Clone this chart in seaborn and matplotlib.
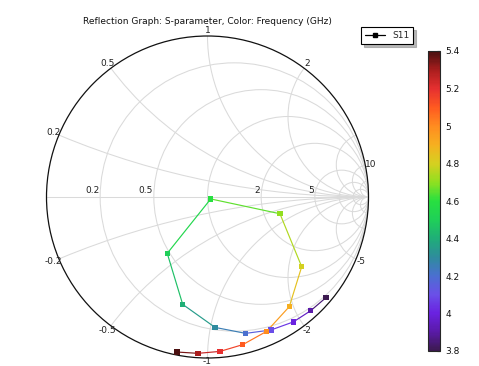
import numpy as np
import pandas as pd
import matplotlib
matplotlib.use("Agg")
import matplotlib.pyplot as plt
import seaborn as sns
from matplotlib.colors import LinearSegmentedColormap, Normalize
from matplotlib.collections import LineCollection
from matplotlib.patches import Circle
from matplotlib.lines import Line2D
from matplotlib.cm import ScalarMappable

# ---- data ----
freq = [3.8, 3.9, 4.0, 4.1, 4.2, 4.3, 4.4, 4.5, 4.6, 4.7, 4.8, 4.9, 5.0, 5.1, 5.2, 5.3, 5.4]
gamma_re = [0.736, 0.641, 0.533, 0.394, 0.237, 0.047, -0.154, -0.250, 0.020, 0.450,
            0.585, 0.508, 0.368, 0.219, 0.078, -0.059, -0.189]
gamma_im = [-0.625, -0.706, -0.776, -0.826, -0.847, -0.810, -0.667, -0.350, -0.012, -0.104,
            -0.433, -0.681, -0.834, -0.917, -0.959, -0.971, -0.963]

r_values = [0.2, 0.5, 1, 2, 5, 10, 20]
x_values = [0.2, 0.5, 1, 2, 5, 10, 20]
r_labels = {0.2: "0.2", 0.5: "0.5", 2: "2", 5: "5"}
x_labels = {0.2: "0.2", 0.5: "0.5", 1: "1", 2: "2", 10: "10",
            -0.2: "-0.2", -0.5: "-0.5", -1: "-1", -2: "-2", -5: "-5"}
cbar_ticks = [3.8, 4.0, 4.2, 4.4, 4.6, 4.8, 5.0, 5.2, 5.4]
cbar_ticklabels = ["3.8", "4", "4.2", "4.4", "4.6", "4.8", "5", "5.2", "5.4"]

title = "Reflection Graph: S-parameter, Color: Frequency (GHz)"
series_name = "S11"

# ---- style ----
sns.set_style("white")
plt.rcParams["font.family"] = ["DejaVu Sans"]

cmap = LinearSegmentedColormap.from_list("comsol_rainbow", [
    (0.0, "#3c1a50"), (0.0625, "#5a1aa8"), (0.125, "#6a22e0"), (0.1875, "#6a50e8"),
    (0.25, "#4a70d0"), (0.3125, "#2e8c9c"), (0.375, "#1fae78"), (0.4375, "#1fd058"),
    (0.5, "#28e040"), (0.5625, "#90e020"), (0.625, "#d6d020"), (0.6875, "#f6b020"),
    (0.75, "#ff8c20"), (0.8125, "#ff5a20"), (0.875, "#e63030"), (0.9375, "#aa1e1e"),
    (1.0, "#4a1010")])
norm = Normalize(vmin=min(freq), vmax=max(freq))

W, H = 479, 366
fig = plt.figure(figsize=(W / 100, H / 100), dpi=100)

cx, cy, R = 207.5, 197.0, 161.0
ax = fig.add_axes([(cx - R) / W, (H - cy - R) / H, 2 * R / W, 2 * R / H])
ax.set_xlim(-1, 1)
ax.set_ylim(-1, 1)
ax.axis("off")

grid_c = "#dadada"
grid_lw = 0.75
unit = Circle((0, 0), 1, transform=ax.transData, fill=False, edgecolor="none")
ax.add_patch(unit)

# resistance circles
for r in r_values:
    c = Circle((r / (1 + r), 0), 1 / (1 + r), fill=False, edgecolor=grid_c, lw=grid_lw, zorder=1)
    ax.add_patch(c)
# reactance arcs
for x in x_values:
    for s in (1, -1):
        c = Circle((1, s / x), 1 / x, fill=False, edgecolor=grid_c, lw=grid_lw, zorder=1)
        ax.add_patch(c)
        c.set_clip_path(unit)
ax.plot([-1, 1], [0, 0], color=grid_c, lw=grid_lw, zorder=1)

# outer circle
ax.add_patch(Circle((0, 0), 1, fill=False, edgecolor="#111111", lw=0.9, zorder=3, clip_on=False))

# labels on real axis
for r, lab in r_labels.items():
    g = (r - 1) / (r + 1)
    ax.text(g - 0.005, 0.01, lab, ha="right", va="bottom", fontsize=6.5, color="#222222", zorder=4)
# reactance labels
for x, lab in x_labels.items():
    gr = (x * x - 1) / (x * x + 1)
    gi = 2 * x / (x * x + 1)
    k = 1.02 if lab == "-1" else 1.035
    ax.text(k * gr, k * gi, lab, ha="center", va="center", fontsize=6.5,
            color="#222222", zorder=4, clip_on=False)

# colored line segments
pts = np.column_stack([gamma_re, gamma_im])
segs = [pts[i:i + 2] for i in range(len(pts) - 1)]
seg_cols = [cmap(norm((freq[i] + freq[i + 1]) / 2)) for i in range(len(pts) - 1)]
ax.add_collection(LineCollection(segs, colors=seg_cols, linewidths=0.85, zorder=5))

df = pd.DataFrame({"re": gamma_re, "im": gamma_im, "freq": freq})
sns.scatterplot(data=df, x="re", y="im", hue="freq", palette=cmap, hue_norm=norm,
                marker="s", s=14, edgecolor="none", linewidth=0, legend=False, ax=ax, zorder=6)
ax.set_xlim(-1, 1)
ax.set_ylim(-1, 1)
ax.axis("off")

# title
fig.text(cx / W, 1 - 22 / H, title, ha="center", va="center", fontsize=6.5, color="#111111")

# legend
h = Line2D([0], [0], color="black", marker="s", markersize=3, lw=0.9, label=series_name)
leg = fig.legend(handles=[h], loc="upper left", bbox_to_anchor=(361 / W, 1 - 27 / H),
                 frameon=True, fancybox=False, shadow={"color": "#9a9a9a", "alpha": 0.7},
                 edgecolor="black", fontsize=6.5, handlelength=2.2, borderpad=0.45,
                 borderaxespad=0)
leg.get_frame().set_linewidth(0.8)

# colorbar
cax = fig.add_axes([428 / W, (H - 351) / H, 12 / W, 300 / H])
cb = fig.colorbar(ScalarMappable(norm=norm, cmap=cmap), cax=cax, ticks=cbar_ticks)
cb.ax.set_yticklabels(cbar_ticklabels)
cb.ax.tick_params(direction="in", length=2.5, width=0.8, labelsize=6.5, pad=4, colors="#111111")
cb.outline.set_linewidth(0.8)

fig.savefig("out.png", dpi=100)
